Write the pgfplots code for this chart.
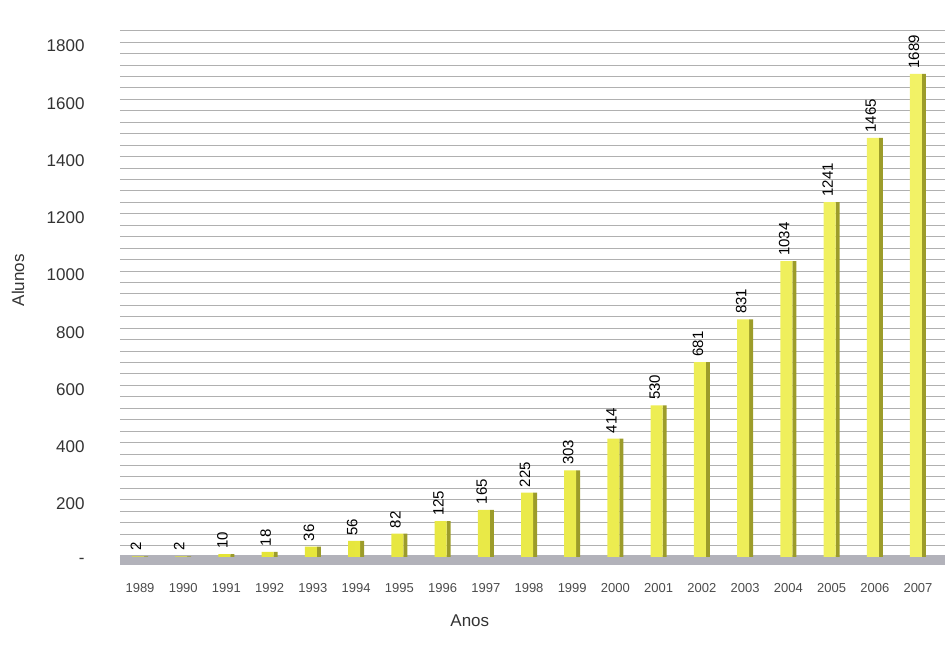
\documentclass[border=0pt]{standalone}
\usepackage{pgfplots}
\pgfplotsset{compat=1.18}
\usepackage{pgfplotstable}
\usepackage{fontspec}
\setmainfont{Liberation Sans}
\definecolor{barfront}{HTML}{E2E22E}
\definecolor{barlight}{HTML}{F2F266}
\definecolor{barside}{HTML}{9C9C2A}
\definecolor{floorc}{HTML}{B2B2BA}
\definecolor{gridc}{HTML}{B0B0B0}
\pgfplotstableread{
x v
0 2
1 2
2 10
3 18
4 36
5 56
6 82
7 125
8 165
9 225
10 303
11 414
12 530
13 681
14 831
15 1034
16 1241
17 1465
18 1689
}\datatab
\begin{document}
\begin{tikzpicture}
\begin{axis}[
  scale only axis,
  width=825pt, height=534.3pt,
  xmin=-0.463, xmax=18.625,
  ymin=-28, ymax=1840,
  ybar,
  axis line style={draw=none},
  tick style={draw=none},
  xtick={0,...,18},
  xticklabels={1989,1990,1991,1992,1993,1994,1995,1996,1997,1998,1999,2000,2001,2002,2003,2004,2005,2006,2007},
  xticklabel style={font=\fontsize{13}{15}\selectfont, text=black!70, yshift=-11pt},
  ytick={0,200,...,1800},
  yticklabels={-,200,400,600,800,1000,1200,1400,1600,1800},
  yticklabel style={font=\fontsize{17}{19}\selectfont, text=black!80, xshift=-32pt, yshift=-4pt},
  minor ytick={0,40,...,1840},
  ymajorgrids, yminorgrids,
  major grid style={draw=gridc, line width=0.9pt},
  minor grid style={draw=gridc, line width=0.9pt},
  xlabel={Anos},
  xlabel style={at={(axis description cs:0.424,-0.105)}, anchor=center, font=\fontsize{17}{19}\selectfont, text=black!80},
  ylabel={Alunos},
  ylabel style={at={(axis description cs:-0.1236,0.533)}, anchor=center, font=\fontsize{17}{19}\selectfont, text=black!80},
  clip=false,
]
\fill[floorc] (axis cs:-0.463,-28) rectangle (axis cs:18.625,6);
\addplot[draw=none, fill=barside, bar width=4pt, bar shift=6pt] table[x=x,y=v]{\datatab};
\addplot[draw=none, left color=barfront, right color=barlight, bar width=12pt, bar shift=-2pt,
  nodes near coords, point meta=explicit symbolic,
  every node near coord/.append style={rotate=90, anchor=west, xshift=2pt, yshift=2pt, font=\fontsize{15}{17}\selectfont, text=black}]
  table[x=x,y=v,meta=v]{\datatab};
\end{axis}
\path ([shift={(-120pt,-94pt)}]current axis.south west) rectangle ([shift={(4pt,30.7pt)}]current axis.north east);
\end{tikzpicture}
\end{document}
